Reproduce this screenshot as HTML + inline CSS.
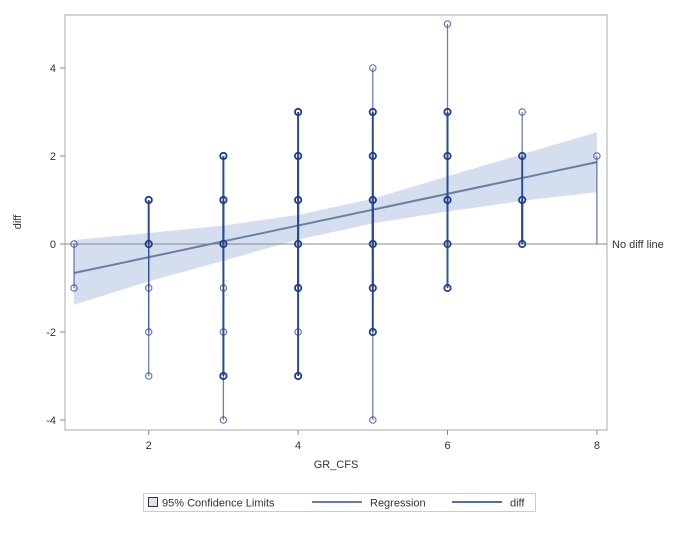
<!DOCTYPE html>
<html><head><meta charset="utf-8"><style>
body{margin:0;background:#fff;font-family:"Liberation Sans",sans-serif;}
svg text{font-family:"Liberation Sans",sans-serif;font-size:11px;fill:#333;}
</style></head><body>
<svg id="chart" width="688" height="528"></svg>
<script>
const xTicks=[2,4,6,8];
const yTicks=[-4,-2,0,2,4];
const obsX=[1,1,2,2,2,2,2,3,3,3,3,3,3,3,4,4,4,4,4,4,4,5,5,5,5,5,5,5,5,6,6,6,6,6,6,7,7,7,7,8];
const obsY=[0,-1,1,0,-1,-2,-3,2,1,0,-1,-2,-3,-4,3,2,1,0,-1,-2,-3,4,3,2,1,0,-1,-2,-4,5,3,2,1,0,-1,3,2,1,0,2];
const obsN=[1,1,3,3,1,1,1,3,3,3,1,1,3,1,3,3,3,3,3,1,3,1,3,3,3,3,2,3,1,1,3,2,3,2,2,1,2,3,2,1];
const bandX=[1,2,3,4,5,6,7,8];
const bandLo=[-1.38,-0.85,-0.38,0.10,0.47,0.74,0.98,1.18];
const bandHi=[0.09,0.25,0.42,0.66,1.03,1.54,2.04,2.54];
const regX=[1,8];
const regY=[-0.66,1.86];
const NS="http://www.w3.org/2000/svg";
const svg=document.getElementById('chart');
const L=65,R=607,T=15,B=430;
const sx=v=>74+(v-1)*74.7;
const sy=v=>244-v*44;
function mk(t,a,p){const e=document.createElementNS(NS,t);for(const k in a)e.setAttribute(k,a[k]);(p||svg).appendChild(e);return e;}
let e;
e=mk('rect',{x:L,y:T,width:R-L,height:B-T,fill:'#fff',stroke:'#aaa'});


let pts=bandX.map((x,i)=>sx(x)+','+sy(bandHi[i])).concat(bandX.slice().reverse().map((x,i)=>sx(x)+','+sy(bandLo[bandX.length-1-i])));
e=mk('polygon',{points:pts.join(' '),fill:'#c9d6ea',opacity:0.8});


e=mk('line',{x1:L,x2:R,y1:sy(0),y2:sy(0),stroke:'#888','stroke-width':1});


e=mk('text',{x:R+5,y:sy(0)+4});e.textContent='No diff line';


e=mk('line',{x1:sx(regX[0]),y1:sy(regY[0]),x2:sx(regX[1]),y2:sy(regY[1]),stroke:'#6a7fa6','stroke-width':2});


obsX.forEach((x,i)=>{
  const op=Math.min(1,0.45+0.25*obsN[i]);
  const s=mk('line',{x1:sx(x),x2:sx(x),y1:sy(0),y2:sy(obsY[i]),stroke:'#2a4b94','stroke-width':obsN[i]>1?2:1.3,opacity:op});
  
  
});
obsX.forEach((x,i)=>{
  const op=Math.min(1,0.45+0.25*obsN[i]);
  const c=mk('circle',{cx:sx(x),cy:sy(obsY[i]),r:3.2,fill:'none',stroke:'#1f3f8a','stroke-width':obsN[i]>1?1.8:1.2,opacity:op});
  
  
});
xTicks.forEach(v=>{
  const t=mk('line',{x1:sx(v),x2:sx(v),y1:B,y2:B+5,stroke:'#888'});
  
  
  const l=mk('text',{x:sx(v),y:B+19,'text-anchor':'middle'});l.textContent=v;
  
  
});
yTicks.forEach(v=>{
  const t=mk('line',{x1:L-5,x2:L,y1:sy(v),y2:sy(v),stroke:'#888'});
  
  
  const l=mk('text',{x:L-9,y:sy(v)+4,'text-anchor':'end'});l.textContent=v;
  
  
});
e=mk('text',{x:336,y:468,'text-anchor':'middle'});e.textContent='GR_CFS';


e=mk('text',{x:21,y:222,'text-anchor':'middle',transform:'rotate(-90 21 222)'});e.textContent='diff';


const g=mk('g',{});


mk('rect',{x:143.5,y:493.5,width:392,height:18,fill:'#fff',stroke:'#ccc'},g);
mk('rect',{x:148.5,y:497.5,width:9,height:9,fill:'#dde3ee',stroke:'#333'},g);
e=mk('text',{x:162,y:506.5},g);e.textContent='95% Confidence Limits';


mk('line',{x1:312,x2:362,y1:502,y2:502,stroke:'#6a7fa6','stroke-width':2},g);
e=mk('text',{x:370,y:506.5},g);e.textContent='Regression';


mk('line',{x1:452,x2:502,y1:502,y2:502,stroke:'#1f3f8a','stroke-width':1.5},g);
e=mk('text',{x:510,y:506.5},g);e.textContent='diff';


</script>
</body></html>
